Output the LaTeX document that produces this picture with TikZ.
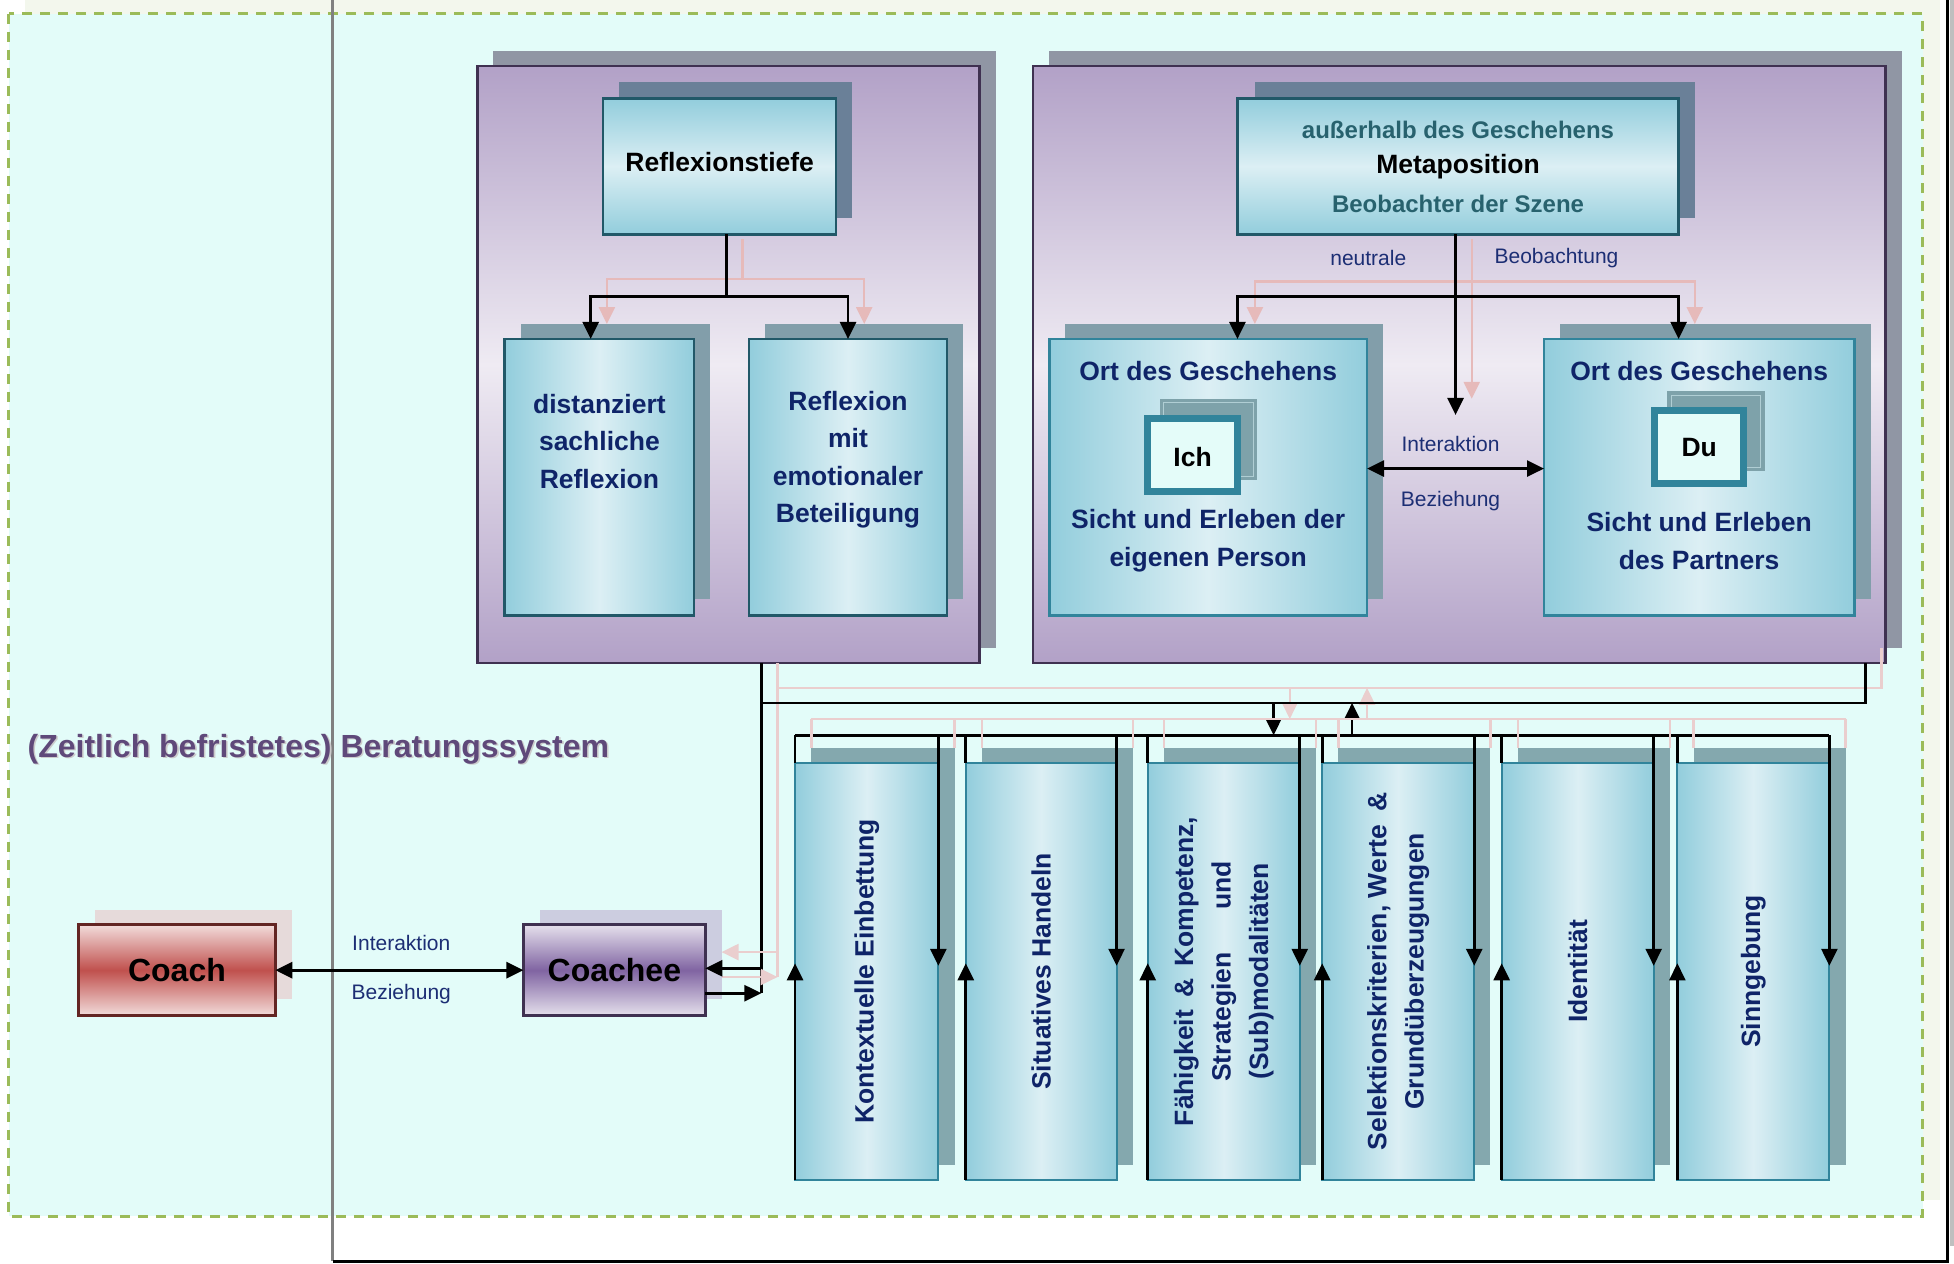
\documentclass[tikz,border=0pt]{standalone}
\usepackage{fontspec}
\setmainfont{Liberation Sans}
\usetikzlibrary{arrows.meta,fit,calc}

\definecolor{bgbeige}{RGB}{243,247,237}
\definecolor{bgcyan}{RGB}{227,252,249}
\definecolor{dashgreen}{RGB}{155,187,89}
\definecolor{framegray}{RGB}{128,128,128}
\definecolor{panelline}{RGB}{63,49,81}
\definecolor{paneldark}{RGB}{178,161,199}
\definecolor{panellight}{RGB}{239,235,243}
\definecolor{panelshadow}{RGB}{144,150,164}
\definecolor{tealedge}{RGB}{146,205,220}
\definecolor{teallight}{RGB}{220,239,244}
\definecolor{tealdark}{RGB}{33,88,104}
\definecolor{tealline}{RGB}{49,132,155}
\definecolor{slateshadow}{RGB}{106,128,152}
\definecolor{boxshadow}{RGB}{130,158,170}
\definecolor{colshadow}{RGB}{132,168,174}
\definecolor{navy}{RGB}{15,36,104}
\definecolor{labelnavy}{RGB}{28,46,116}
\definecolor{metateal}{RGB}{40,98,110}
\definecolor{titlepurple}{RGB}{95,73,122}
\definecolor{pinkline}{RGB}{230,186,186}
\definecolor{pinklight}{RGB}{234,206,206}
\definecolor{coachlight}{RGB}{242,220,219}
\definecolor{coachred}{RGB}{192,80,77}
\definecolor{coachline}{RGB}{99,37,35}
\definecolor{coachshadow}{RGB}{230,218,218}
\definecolor{coacheelight}{RGB}{229,224,236}
\definecolor{coacheepurple}{RGB}{128,100,162}
\definecolor{coacheeshadow}{RGB}{204,205,224}
\definecolor{selffill}{RGB}{228,252,249}
\definecolor{selfshadow}{RGB}{126,162,170}
\definecolor{selfrim}{RGB}{176,206,212}

\newcommand\fBox{\fontsize{26.5}{37.4}\selectfont\bfseries}
\newcommand\fMeta{\fontsize{24}{30}\selectfont\bfseries}
\newcommand\fLabel{\fontsize{21}{26}\selectfont}
\newcommand\fBig{\fontsize{32}{38}\selectfont\bfseries}

\begin{document}
\begin{tikzpicture}[x=1.2462pt,y=-1.2462pt,
  >={Triangle[width=16pt,length=17pt]},
  flat/.style={inner sep=0pt,outer sep=0pt},
  pshade/.style={flat,fill=panelshadow},
  panelbox/.style={flat,draw=panelline,line width=2.5pt,top color=paneldark,bottom color=paneldark,middle color=panellight},
  topshade/.style={flat,fill=slateshadow},
  subshade/.style={flat,fill=boxshadow},
  colshade/.style={flat,fill=colshadow},
  vbox/.style={flat,draw=tealdark,line width=2.5pt,top color=tealedge,bottom color=tealedge,middle color=teallight},
  hbox/.style={flat,draw=tealdark,line width=2.5pt,left color=tealedge,right color=tealedge,middle color=teallight},
  obox/.style={hbox,draw=tealline},
  colbox/.style={hbox,draw=tealline,line width=2pt},
  selfshade/.style={flat,fill=selfshadow},
  selfbox/.style={flat,fill=selffill,draw=tealline,line width=7pt},
  coachbox/.style={flat,draw=coachline,line width=2.5pt,top color=coachlight,bottom color=coachlight,middle color=coachred},
  coacheebox/.style={flat,draw=panelline,line width=2.5pt,top color=coacheelight,bottom color=coacheelight,middle color=coacheepurple},
  boxtext/.style={font=\fBox,text=navy,align=center,inner sep=0pt},
  lbl/.style={font=\fLabel,text=labelnavy,inner sep=0pt},
  blk/.style={draw=black,line width=2.6pt},
  pnk/.style={draw=pinkline,line width=2.5pt},
  pnklow/.style={draw=pinklight,line width=2.5pt}]
\useasboundingbox (0,0) rectangle (1568,1014);

% page background and system boundary
\fill[bgbeige] (20,0) rectangle (1557,963);
\draw[dashgreen,line width=3.2pt,dash pattern=on 10pt off 8pt,fill=bgcyan] (7,11) rectangle (1543,976);
\fill[black!25] (1564.6,0) rectangle (1568,1000);
\draw[framegray,line width=3.2pt] (267,0) -- (267,1012);
\draw[black,line width=3pt] (267,1012) -- (1563,1012) -- (1563,0);

% title
\node[anchor=west,text=black!20,font=\fBig,inner sep=0pt] (titleshade) at (23.3,602.3) {(Zeitlich befristetes) Beratungssystem};
\node[anchor=west,text=titlepurple,font=\fBig,inner sep=0pt] (title) at (22,601) {(Zeitlich befristetes) Beratungssystem};

% upper panels
\node[pshade,fit={(396,41) (799,520)}] (PLs) {};
\node[panelbox,fit={(383,53) (786,532)}] (PL) {};
\node[pshade,fit={(842,41) (1526,520)}] (PRs) {};
\node[panelbox,fit={(829,53) (1513,532)}] (PR) {};

% reflection depth
\node[topshade,fit={(497,66) (684,175)}] (RTs) {};
\node[vbox,fit={(484,79) (671,188)}] (RT) {};
\node[boxtext,text=black] (RTt) at (577.5,130) {Reflexionstiefe};
\node[subshade,fit={(418,260) (570,481)}] (D1s) {};
\node[hbox,fit={(405,272) (557,494)}] (D1) {};
\node[boxtext] (D1t) at (481,354) {distanziert\\sachliche\\Reflexion};
\node[subshade,fit={(614,260) (773,481)}] (D2s) {};
\node[hbox,fit={(601,272) (760,494)}] (D2) {};
\node[boxtext] (D2t) at (680.5,369) {Reflexion\\mit\\emotionaler\\Beteiligung};

\coordinate (rpj) at (596,224);
\draw[pnk] ($(rpj |- RT.south)+(0,4)$) -- (rpj);
\draw[pnk,->] (rpj) -| ($(D1s.north west)+(69,0)$);
\draw[pnk,->] (rpj) -| (D2s.north);
\coordinate (rj) at (583,238);
\draw[blk] (rj |- RT.south) -- (rj);
\draw[blk,->] (rj) -| ($(D1.north west)+(69,0)$);
\draw[blk,->] (rj) -| (D2.north);

% meta position
\node[topshade,fit={(1007,66) (1360,175)}] (MPs) {};
\node[vbox,fit={(993,79) (1347,188)}] (MP) {};
\node[text=metateal,font=\fMeta,inner sep=0pt] (MPa) at (1170,104) {außerhalb des Geschehens};
\node[text=black,font=\fBox,inner sep=0pt] (MPb) at (1170,134) {Metaposition};
\node[text=metateal,font=\fMeta,inner sep=0pt] (MPc) at (1170,164) {Beobachter der Szene};
\node[lbl] (neu) at (1098,207) {neutrale};
\node[lbl] (beo) at (1249,207) {Beobachtung};

% places of action
\node[subshade,fit={(855,260) (1110,481)}] (O1s) {};
\node[obox,fit={(842,272) (1097,494)}] (O1) {};
\node[boxtext] (O1a) at (969.5,298) {Ort des Geschehens};
\node[selfshade,fit={(931,320) (1009,385)}] (Ichs) {};
\draw[selfrim,line width=1pt] ($(Ichs.north west)+(3,3)$) rectangle ($(Ichs.south east)+(-3,-3)$);
\node[selfbox,fit={(920.8,335.8) (993.2,394.2)}] (Ich) {};
\node[font=\fBox,inner sep=0pt] (Icht) at (957,367) {Ich};
\node[boxtext] (O1b) at (969.5,434) {Sicht und Erleben der\\eigenen Person};

\node[subshade,fit={(1252,260) (1501,481)}] (O2s) {};
\node[obox,fit={(1239,272) (1488,494)}] (O2) {};
\node[boxtext] (O2a) at (1363.5,298) {Ort des Geschehens};
\node[selfshade,fit={(1338,314) (1416,378)}] (Dus) {};
\draw[selfrim,line width=1pt] ($(Dus.north west)+(3,3)$) rectangle ($(Dus.south east)+(-3,-3)$);
\node[selfbox,fit={(1327.8,329.8) (1399.2,388.2)}] (Du) {};
\node[font=\fBox,inner sep=0pt] (Dut) at (1363.5,359) {Du};
\node[boxtext] (O2b) at (1363.5,434) {Sicht und Erleben\\des Partners};

\coordinate (mpj) at (1181,226);
\draw[pnk] ($(mpj |- MP.south)+(0,4)$) -- (mpj);
\draw[pnk,->] (mpj) -- (1181,320);
\draw[pnk,->] (mpj) -| (MPs.south west |- O1s.north);
\draw[pnk,->] (mpj) -| (MPs.south east |- O2s.north);
\coordinate (mj) at (1168,238);
\draw[blk,->] (mj |- MP.south) -- (1168,333);
\draw[blk,->] (mj) -| (MP.south west |- O1.north);
\draw[blk,->] (mj) -| (MP.south east |- O2.north);
\coordinate (ia) at (1168,376);
\draw[blk,<->] (ia -| O1.east) -- (ia -| O2.west);
\node[lbl] (ia1) at (1164,356) {Interaktion};
\node[lbl] (ia2) at (1164,402) {Beziehung};

% connections between panels, coachee and levels
\coordinate (pTL) at (624,552);
\coordinate (pTR) at (1510,552);
\coordinate (pBL) at (624,784);
\coordinate (pb) at (651,577);
\draw[pnklow] (pBL |- PL.south) -- (pBL);
\draw[pnklow] (pTL) -- (pTR) -- (pTR |- PRs.south);
\draw[pnklow,->] (1035,552) -- (1035,577);
\draw[pnklow,->] (1097,577) -- (1097,552);

\coordinate (bTL) at (611,564);
\coordinate (bTR) at (1497,564);
\coordinate (bBL) at (611,797);
\coordinate (ca) at (611,777);
\coordinate (cb) at (638,590);
\draw[blk] (bBL |- PL.south) -- (bBL);
\draw[blk] (bTL) -- (bTR) -- (bTR |- PR.south);
\draw[blk,->] (1022,564) -- (1022,590);
\draw[blk,->] (1085,590) -- (1085,564);

% logical levels
\foreach \i/\l/\r in {1/638/753,2/775/896,3/921/1043,4/1061/1183,5/1205/1327,6/1346/1468}{
  \node[colshade,fit={(\l+13,600) (\r+13,935)}] (S\i) {};
}
\draw[pnklow] (S1.north west |- pb) -- (S6.north east |- pb);
\draw[blk] (cb) -- (1468,590);
\foreach \i/\l/\r in {1/638/753,2/775/896,3/921/1043,4/1061/1183,5/1205/1327,6/1346/1468}{
  \draw[pnklow] (S\i.north west |- pb) -- (S\i.north west);
  \draw[pnklow] (S\i.north east |- pb) -- (S\i.north east);
  \node[colbox,fit={(\l,612) (\r,947)}] (C\i) {};
  \draw[blk] (C\i.north west |- cb) -- (C\i.north west);
  \draw[blk,->] (C\i.south west) -- ++(0,-174);
  \draw[blk,->] (C\i.north east |- cb) -- ++(0,185);
}
\node[boxtext,rotate=90] (T1) at (C1.center) {Kontextuelle Einbettung};
\node[boxtext,rotate=90] (T2) at (C2.center) {Situatives Handeln};
\node[boxtext,rotate=90] (T3) at (C3.center) {Fähigkeit\hspace{0.45em}\&\hspace{0.45em}Kompetenz,\\Strategien\hspace{1.6em}und\\(Sub)modalitäten};
\node[boxtext,rotate=90] (T4) at (C4.center) {Selektionskriterien, Werte\hspace{0.5em}\&\\Grundüberzeugungen};
\node[boxtext,rotate=90] (T5) at (C5.center) {Identität};
\node[boxtext,rotate=90] (T6) at (C6.center) {Sinngebung};

% coach and coachee
\node[flat,fill=coachshadow,fit={(76,730) (234,802)}] (Coachs) {};
\node[coachbox,fit={(63,742) (221,815)}] (Coach) {};
\node[font=\fBig,inner sep=0pt] (Coacht) at (Coach.center) {Coach};
\node[flat,fill=coacheeshadow,fit={(433,730) (579,802)}] (Coachees) {};
\node[coacheebox,fit={(420,742) (566,815)}] (Coachee) {};
\node[font=\fBig,inner sep=0pt] (Coacheet) at (Coachee.center) {Coachee};

\draw[blk,line width=3pt,<->] (Coach.east) -- (Coachee.west);
\node[lbl] (ci1) at (322,757) {Interaktion};
\node[lbl] (ci2) at (322,798) {Beziehung};

\draw[pnklow,->] (pBL |- 0,764) -- (Coachees.east |- 0,764);
\draw[pnklow,->] (Coachees.east |- pBL) -- (pBL);
\draw[blk,->] (ca) -- (ca -| Coachee.east);
\draw[blk,->] (bBL -| Coachee.east) -- (bBL);
\end{tikzpicture}
\end{document}
